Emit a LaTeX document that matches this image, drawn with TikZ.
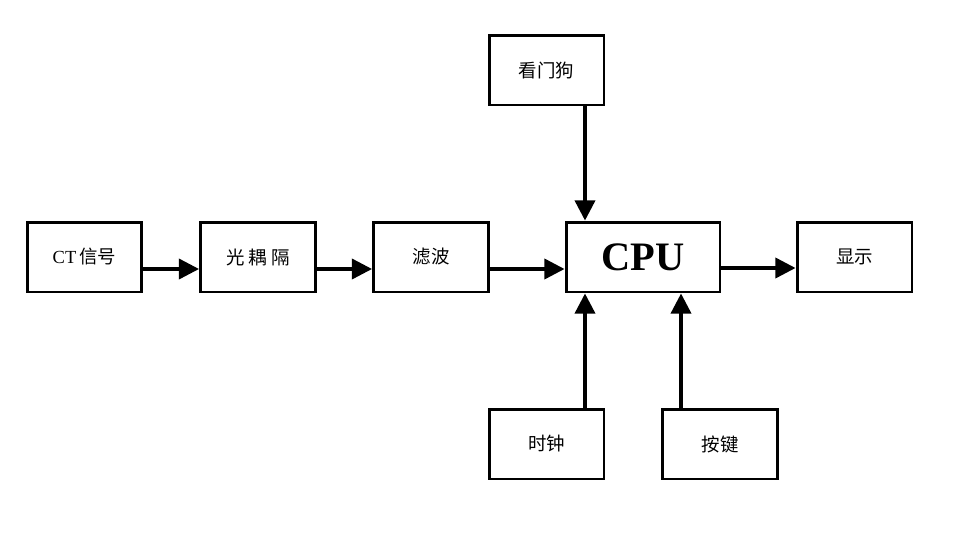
\documentclass[tikz,border=0pt]{standalone}
\usepackage{fontspec}
\setmainfont{Liberation Serif}
\newfontfamily\cjk{Noto Sans CJK SC}
\usetikzlibrary{arrows.meta}

\begin{document}
\begin{tikzpicture}[x=0.02cm, y=-0.02cm]

    \tikzset{block/.style={%
      draw,%
      rectangle,%
      line width=1.7pt,%
      minimum width=2.3cm,%
      minimum height=1.4cm,%
      inner sep=0pt,%
      font=\fontsize{10.5}{13}\selectfont}%
    };
    \tikzset{bigblock/.style={block, minimum width=3.08cm,
      font=\fontsize{23}{26}\selectfont\bfseries}};
    \tikzset{conn/.style={line width=1.9pt,
      -{Triangle[length=11.5pt,width=11.5pt]}}};

    \useasboundingbox (0,0) rectangle (976,534);

    %%%%%%%%%%%%%%%
    % signal path %
    %%%%%%%%%%%%%%%
    \node[block] (ct) at (84.5,257) {CT\,{\cjk 信号}};
    \node[block] (opto) at (258,257) {\cjk 光 耦 隔};
    \node[block] (filt) at (431,257) {\cjk 滤波};
    \node[bigblock] (cpu) at (643,257) {CPU};
    \node[block] (disp) at (854.5,257) {\cjk 显示};

    %%%%%%%%%%%%%%%%%%%
    % around the CPU  %
    %%%%%%%%%%%%%%%%%%%
    \node[block] (wdog) at (546.5,70) {\cjk 看门狗};
    \node[block] (clk) at (546.5,444) {\cjk 时钟};
    \node[block] (keys) at (720,444) {\cjk 按键};

    \draw[conn] ([yshift=-0.24cm]ct.east) -- ([yshift=-0.24cm]opto.west);
    \draw[conn] ([yshift=-0.24cm]opto.east) -- ([yshift=-0.24cm]filt.west);
    \draw[conn] ([yshift=-0.24cm]filt.east) -- ([yshift=-0.24cm]cpu.west);
    \draw[conn] ([yshift=-0.22cm]cpu.east) -- ([yshift=-0.22cm]disp.west);
    \draw[conn] ([xshift=0.77cm]wdog.south) -- ([xshift=0.77cm]wdog.south |- cpu.north);
    \draw[conn] ([xshift=0.77cm]clk.north) -- ([xshift=0.77cm]clk.north |- cpu.south);
    \draw[conn] ([xshift=-0.78cm]keys.north) -- ([xshift=-0.78cm]keys.north |- cpu.south);

  \end{tikzpicture}
\end{document}
